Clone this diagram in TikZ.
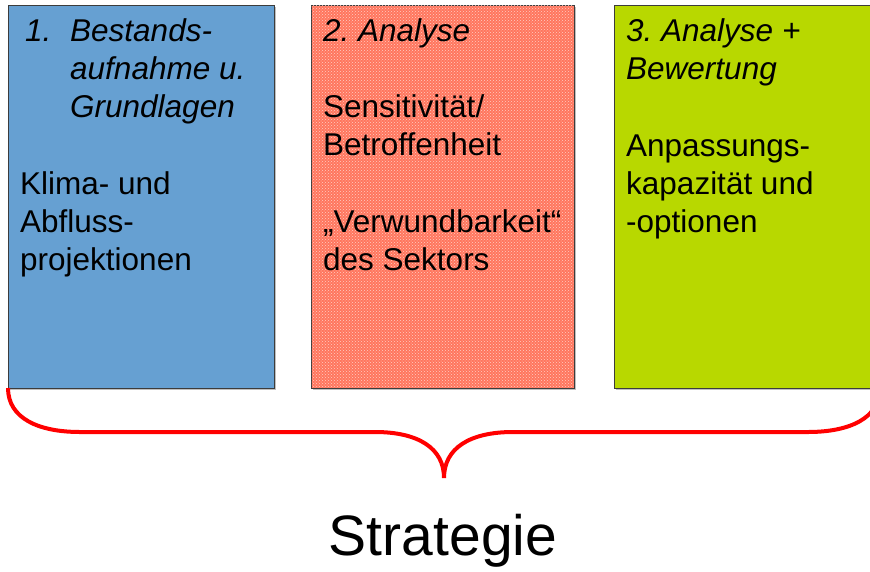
\documentclass[tikz,border=0pt]{standalone}
\usepackage{fontspec}
\setmainfont{Liberation Sans}
\usetikzlibrary{patterns}

\definecolor{boxblue}{RGB}{102,160,210}
\definecolor{boxred}{RGB}{255,118,94}
\definecolor{boxredlight}{RGB}{255,205,195}
\definecolor{boxgreen}{RGB}{184,216,0}
\definecolor{boxline}{RGB}{60,60,60}

\tikzset{
	box/.style={draw=boxline, line width=1pt},
	shade box/.style={fill=black!25},
	boxtext/.style={anchor=base west, align=left, inner sep=0pt, font=\fontsize{31.5}{38}\selectfont},
	boxhead/.style={boxtext, font=\fontsize{31.5}{38}\selectfont\itshape},
}

\begin{document}
\begin{tikzpicture}[x=1pt, y=-1pt]
	\useasboundingbox (0,0) rectangle (870,571);
	\clip (0,0) rectangle (870,571);
	\fill[shade box] (10,7) rectangle (276,390);
	\fill[shade box] (313,7) rectangle (576,390);
	\fill[shade box] (616,7) rectangle (882,390);
	\draw[box, fill=boxblue] (8,5) rectangle (274,388);
	\draw[box, fill=boxred] (311,5) rectangle (574,388);
	\fill[pattern=crosshatch dots, pattern color=boxredlight] (311.5,5.5) rectangle (573.5,387.5);
	\draw[box, fill=boxgreen] (614,5) rectangle (880,388);
	\node[boxhead] (num1) at (25,41) {1.};
	\node[boxhead] (head1) at (70,117) {Bestands-\\aufnahme u.\\Grundlagen};
	\node[boxtext] (text1) at (20,270) {Klima- und\\Abfluss-\\projektionen};
	\node[boxhead] (head2) at (323,41) {2.\ Analyse};
	\node[boxtext] (text2a) at (323,155) {Sensitivität/\\Betroffenheit};
	\node[boxtext] (text2b) at (323,270) {„Verwundbarkeit“\\des Sektors};
	\node[boxhead] (head3) at (626,79) {3.\ Analyse +\\Bewertung};
	\node[boxtext] (text3) at (626,232) {Anpassungs-\\kapazität und\\-optionen};
	\draw[red, line width=4pt] (8,388) .. controls (8,418) and (38,432) .. (80,432) -- (375,432)
		.. controls (418,432) and (444,448) .. (444,478)
		.. controls (444,448) and (470,432) .. (513,432) -- (808,432)
		.. controls (850,432) and (880,418) .. (880,388);
	\node[anchor=base, font=\fontsize{57}{68}\selectfont] (strategie) at (443,555) {Strategie};
\end{tikzpicture}
\end{document}
